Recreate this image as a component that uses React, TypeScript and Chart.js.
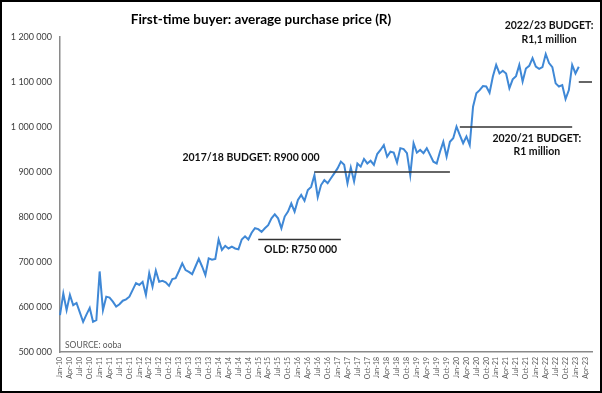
import { useEffect, useRef } from "react";
import { Chart, registerables } from "chart.js";

Chart.register(...registerables);

// ---- Categories (monthly, Jan-10 .. Jun-23; every 3rd is labelled) ----
const MONTHS = ["Jan", "Feb", "Mar", "Apr", "May", "Jun", "Jul", "Aug", "Sep", "Oct", "Nov", "Dec"];
const FIRST_YEAR = 10;
const LAST_YEAR = 23;
const LAST_MONTH_OF_LAST_YEAR = 6;
const categories: string[] = [];
for (let yr = FIRST_YEAR; yr <= LAST_YEAR; yr++) {
  const n = yr === LAST_YEAR ? LAST_MONTH_OF_LAST_YEAR : 12;
  for (let m = 0; m < n; m++) categories.push(`${MONTHS[m]}-${yr}`);
}

// ---- Series: first-time buyer average purchase price (R), Jan-10 .. Feb-23 ----
const avgPrice: number[] = [
  582000, 630000, 593000, 627000, 604000, 609000, 588000, 567000, 583000, 598000,
  567000, 571000, 679000, 593000, 623000, 621000, 612000, 601000, 606000, 614000,
  617000, 623000, 638000, 653000, 649000, 656000, 627000, 675000, 645000, 681000,
  656000, 658000, 655000, 647000, 662000, 664000, 680000, 697000, 682000, 678000,
  673000, 690000, 707000, 690000, 671000, 708000, 705000, 707000, 750000, 727000,
  736000, 730000, 734000, 730000, 728000, 750000, 757000, 750000, 765000, 775000,
  773000, 767000, 775000, 782000, 797000, 806000, 797000, 775000, 801000, 812000,
  830000, 812000, 838000, 849000, 836000, 860000, 867000, 893000, 844000, 871000,
  882000, 875000, 886000, 897000, 908000, 923000, 916000, 875000, 910000, 879000,
  919000, 912000, 929000, 919000, 925000, 916000, 940000, 949000, 960000, 934000,
  945000, 943000, 921000, 953000, 951000, 942000, 893000, 964000, 943000, 949000,
  942000, 953000, 938000, 923000, 919000, 945000, 967000, 934000, 967000, 975000,
  1001000, 982000, 964000, 979000, 960000, 1045000, 1075000, 1082000, 1091000, 1090000,
  1076000, 1112000, 1138000, 1119000, 1125000, 1119000, 1086000, 1106000, 1113000, 1138000,
  1101000, 1130000, 1136000, 1153000, 1134000, 1129000, 1133000, 1162000, 1142000, 1133000,
  1097000, 1090000, 1093000, 1062000, 1082000, 1138000, 1119000, 1134000,
];

// ---- Budget threshold lines: [value, from, to] ----
const budgetValues: number[] = [750000, 900000, 1000000, 1100000];
const budgetFrom: string[] = ["Jan-15", "Jun-16", "Feb-20", "Feb-23"];
const budgetTo: string[] = ["Feb-17", "Nov-19", "Dec-22", "Jun-23"];

// ---- Text ----
const TITLE = "First-time buyer: average purchase price (R)";
const SOURCE = "SOURCE: ooba";
const annotationLines: string[][] = [
  ["2017/18 BUDGET: R900 000"],
  ["OLD: R750 000"],
  ["2020/21 BUDGET:", "R1 million"],
  ["2022/23 BUDGET:", "R1,1 million"],
];
// anchor (category index, value) for each annotation block's first line
const annotationAnchorIdx: number[] = [57.8, 72.8, 144.3, 148];
const annotationAnchorVal: number[] = [933000, 727000, 975000, 1225000];

const Y_MIN = 500000;
const Y_MAX = 1200000;
const Y_STEP = 100000;

const FONT = "Lato, 'DejaVu Sans', sans-serif";

function fmt(v: number): string {
  return String(v).replace(/\B(?=(\d{3})+(?!\d))/g, " ");
}

function rangeSeries(value: number, from: string, to: string): (number | null)[] {
  const a = categories.indexOf(from);
  const b = categories.indexOf(to);
  return categories.map((_, i) => (i >= a && i <= b ? value : null));
}

const textPlugin = {
  id: "textPlugin",
  afterDraw(chart: any) {
    const { ctx } = chart;
    const xs = chart.scales.x;
    const ys = chart.scales.y;
    ctx.save();
    // title
    ctx.fillStyle = "#000";
    ctx.font = `bold 13.5px ${FONT}`;
    ctx.textAlign = "center";
    ctx.textBaseline = "alphabetic";
    ctx.fillText(TITLE, 261, 24);

    // annotations
    ctx.font = `bold 10.5px ${FONT}`;
    ctx.textBaseline = "middle";
    ctx.fillStyle = "#111";
    annotationLines.forEach((lines, k) => {
      const x = xs.getPixelForValue(annotationAnchorIdx[k]);
      const y = ys.getPixelForValue(annotationAnchorVal[k]);
      lines.forEach((t, j) => ctx.fillText(t, x, y + j * 13.5));
    });

    // source
    ctx.font = `8.5px ${FONT}`;
    ctx.fillStyle = "#595959";
    ctx.textAlign = "left";
    ctx.fillText(SOURCE, chart.chartArea.left + 5, chart.chartArea.bottom - 7);
    ctx.restore();
  },
};

export default function App() {
  const ref = useRef<HTMLCanvasElement>(null);
  useEffect(() => {
    const canvas = ref.current!;
    const budgetSets = budgetValues.map((v, k) => ({
      label: `budget${k}`,
      data: rangeSeries(v, budgetFrom[k], budgetTo[k]),
      borderColor: "#333333",
      borderWidth: 1.5,
      pointRadius: 0,
      tension: 0,
      fill: false,
      order: 0,
    }));
    const chart = new Chart(canvas, {
      type: "line",
      data: {
        labels: categories,
        datasets: [
          {
            label: "Average purchase price",
            data: avgPrice,
            borderColor: "#3F88D6",
            borderWidth: 2,
            pointRadius: 0,
            tension: 0,
            fill: false,
            order: 1,
          },
          ...budgetSets,
        ],
      },
      options: {
        responsive: false,
        devicePixelRatio: 1,
        animation: false,
        layout: { padding: { left: 0, right: 10, top: 37, bottom: 0 } },
        plugins: { legend: { display: false }, tooltip: { enabled: false }, title: { display: false } },
        scales: {
          x: {
            type: "category",
            grid: { display: false, drawTicks: false },
            border: { display: true, color: "#8a8a8a", width: 1.5 },
            ticks: {
              autoSkip: false,
              minRotation: 90,
              maxRotation: 90,
              padding: 5,
              color: "#595959",
              font: { family: FONT, size: 7 },
              callback: (_v: any, i: number) => (i % 3 === 0 ? categories[i] : null),
            },
            afterFit: (s: any) => {
              s.height = 41;
            },
          },
          y: {
            min: Y_MIN,
            max: Y_MAX,
            grid: { display: false, drawTicks: false },
            border: { display: true, color: "#8a8a8a", width: 1.5 },
            ticks: {
              stepSize: Y_STEP,
              padding: 8,
              color: "#404040",
              font: { family: FONT, size: 9 },
              callback: (v: any) => fmt(Number(v)),
            },
            afterFit: (s: any) => {
              s.width = 60;
            },
          },
        },
      },
      plugins: [textPlugin],
    } as any);
    return () => chart.destroy();
  }, []);
  return (
    <div style={{ position: "fixed", left: 0, top: 0, width: 602, height: 393, background: "#fff" }}>
      <canvas ref={ref} width={602} height={393} style={{ position: "absolute", left: 0, top: 0, width: 602, height: 393 }} />
      <div
        style={{
          position: "absolute",
          inset: 0,
          border: "2px solid #000",
          boxSizing: "border-box",
          pointerEvents: "none",
        }}
      />
    </div>
  );
}
